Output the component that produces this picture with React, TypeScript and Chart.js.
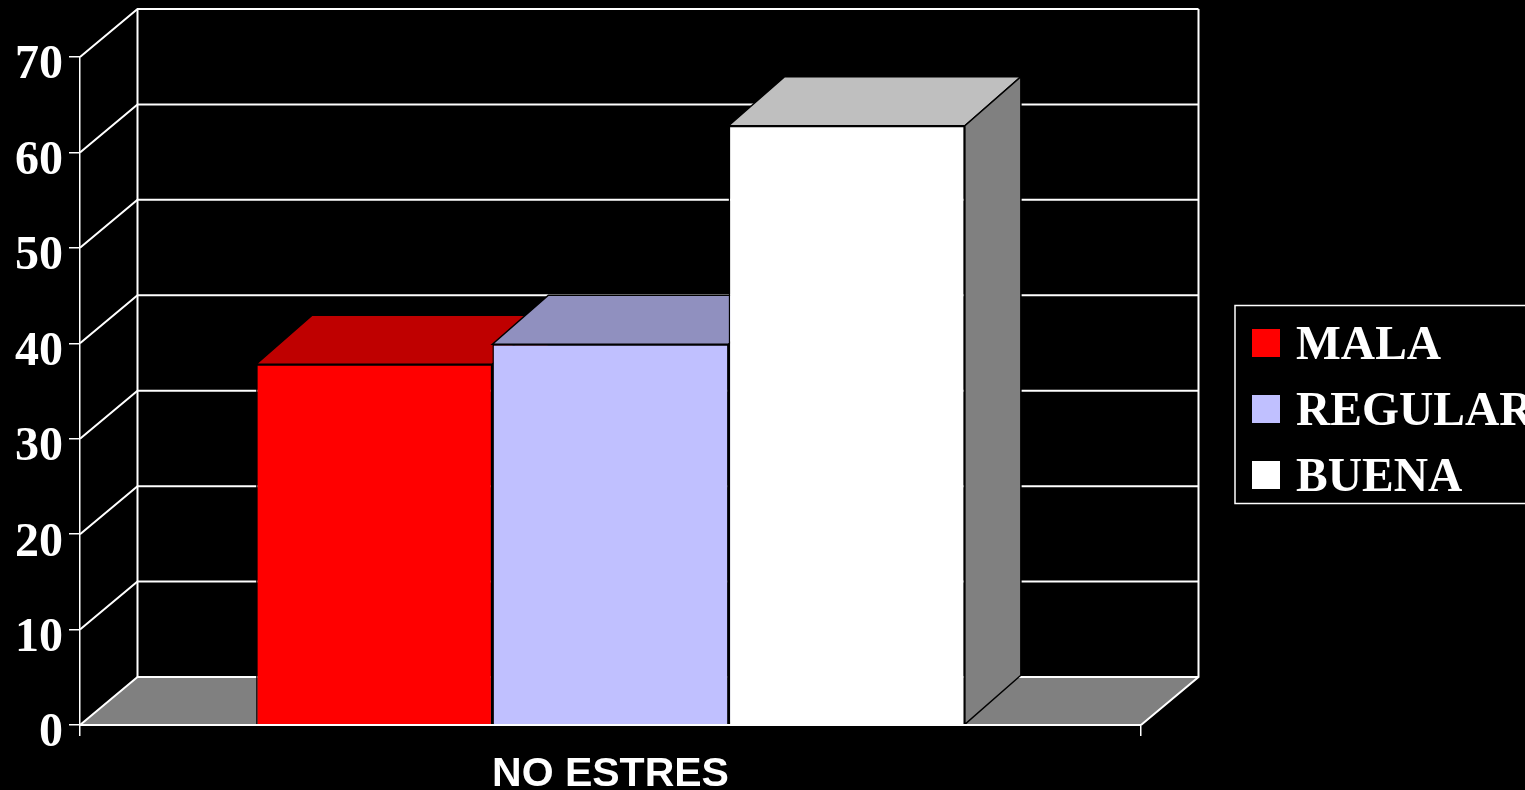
import React, { useEffect, useRef } from "react";
import { Chart, registerables } from "chart.js";

Chart.register(...registerables);

const categories = ["NO ESTRES"];
const seriesNames = ["MALA", "REGULAR", "BUENA"];
const mala = [37.8];
const regular = [39.9];
const buena = [62.8];
const frontColors = ["#FF0000", "#C0C0FF", "#FFFFFF"];
const topColors = ["#BF0000", "#9090BF", "#BFBFBF"];
const sideColors = ["#800000", "#606080", "#808080"];

const WALL_DX = 57.5;
const WALL_DY = 48;
const BAR_DX = 56;
const BAR_DY = 49;
const SERIF = '"Liberation Serif", serif';
const SANS = '"Liberation Sans", sans-serif';

function poly(ctx: CanvasRenderingContext2D, pts: number[][], fill: string, stroke: string, lw: number) {
  ctx.beginPath();
  pts.forEach((p, i) => (i === 0 ? ctx.moveTo(p[0], p[1]) : ctx.lineTo(p[0], p[1])));
  ctx.closePath();
  ctx.fillStyle = fill;
  ctx.fill();
  ctx.strokeStyle = stroke;
  ctx.lineWidth = lw;
  ctx.stroke();
}

const backgroundPlugin = {
  id: "blackBackground",
  beforeDraw(chart: any) {
    const { ctx, width, height } = chart;
    ctx.save();
    ctx.fillStyle = "#000000";
    ctx.fillRect(0, 0, width, height);
    ctx.restore();
  },
};

const wallsPlugin = {
  id: "walls3d",
  beforeDatasetsDraw(chart: any) {
    const { ctx, chartArea, scales } = chart;
    const { left, right, top, bottom } = chartArea;
    const y = scales.y;
    ctx.save();
    ctx.fillStyle = "#808080";
    ctx.beginPath();
    ctx.moveTo(left, bottom);
    ctx.lineTo(left + WALL_DX, bottom - WALL_DY);
    ctx.lineTo(right + WALL_DX, bottom - WALL_DY);
    ctx.lineTo(right, bottom);
    ctx.closePath();
    ctx.fill();
    ctx.strokeStyle = "#FFFFFF";
    ctx.lineWidth = 2;
    y.ticks.forEach((t: any) => {
      const py = y.getPixelForValue(t.value);
      ctx.beginPath();
      ctx.moveTo(left, py);
      ctx.lineTo(left + WALL_DX, py - WALL_DY);
      ctx.lineTo(right + WALL_DX, py - WALL_DY);
      ctx.stroke();
    });
    ctx.beginPath();
    ctx.moveTo(left + WALL_DX, top - WALL_DY);
    ctx.lineTo(left + WALL_DX, bottom - WALL_DY);
    ctx.moveTo(right + WALL_DX, top - WALL_DY);
    ctx.lineTo(right + WALL_DX, bottom - WALL_DY);
    ctx.lineTo(right, bottom);
    ctx.stroke();
    chart.data.datasets.forEach((_: any, i: number) => {
      chart.getDatasetMeta(i).data.forEach((bar: any) => {
        const l = bar.x - bar.width / 2;
        const r = bar.x + bar.width / 2;
        poly(ctx, [[l, bar.y], [l + BAR_DX, bar.y - BAR_DY], [r + BAR_DX, bar.y - BAR_DY], [r, bar.y]], topColors[i], "#000000", 1.5);
        poly(ctx, [[r, bar.y], [r + BAR_DX, bar.y - BAR_DY], [r + BAR_DX, bar.base - BAR_DY], [r, bar.base]], sideColors[i], "#000000", 1.5);
      });
    });
    ctx.restore();
  },
};

const legendPlugin = {
  id: "boxLegend",
  afterDraw(chart: any) {
    const { ctx } = chart;
    ctx.save();
    ctx.strokeStyle = "#FFFFFF";
    ctx.lineWidth = 1.5;
    ctx.strokeRect(1235, 305.5, 310, 198);
    ctx.font = `bold 47.5px ${SERIF}`;
    ctx.textAlign = "left";
    ctx.textBaseline = "alphabetic";
    chart.data.datasets.forEach((ds: any, i: number) => {
      const cy = 343 + i * 66;
      ctx.fillStyle = ds.backgroundColor;
      ctx.fillRect(1252, cy - 14, 28, 28);
      ctx.fillStyle = "#FFFFFF";
      ctx.fillText(ds.label, 1296, cy + 15.5);
    });
    ctx.restore();
  },
};

export default function App() {
  const ref = useRef<HTMLCanvasElement>(null);
  useEffect(() => {
    document.body.style.margin = "0";
    document.body.style.background = "#000";
    document.body.style.overflow = "hidden";
    const chart = new Chart(ref.current!, {
      type: "bar",
      data: {
        labels: categories,
        datasets: [mala, regular, buena].map((values, i) => ({
          label: seriesNames[i],
          data: values,
          backgroundColor: frontColors[i],
          borderColor: "#000000",
          borderWidth: 1.5,
          barPercentage: 1,
          categoryPercentage: 0.668,
        })),
      },
      options: {
        responsive: false,
        animation: false,
        layout: { padding: { left: 0, top: 57, right: 384, bottom: 0 } },
        plugins: { legend: { display: false }, tooltip: { enabled: false } },
        scales: {
          x: {
            afterFit(scale: any) {
              scale.height = 65;
            },
            grid: { display: true, drawOnChartArea: false, drawTicks: true, tickLength: 11, color: "#FFFFFF", lineWidth: 1.5, z: 1 },
            border: { display: true, color: "#FFFFFF", width: 2, z: 1 },
            ticks: {
              color: "#FFFFFF",
              font: { family: SANS, size: 41, weight: "bold" },
              padding: 14,
              maxRotation: 0,
            },
          },
          y: {
            min: 0,
            max: 70,
            afterFit(scale: any) {
              scale.width = 80;
            },
            grid: { display: true, drawOnChartArea: false, drawTicks: true, tickLength: 11, color: "#FFFFFF", lineWidth: 1.5, z: 1 },
            border: { display: true, color: "#FFFFFF", width: 1.5, z: 1 },
            ticks: {
              stepSize: 10,
              autoSkip: false,
              color: "#FFFFFF",
              font: { family: SERIF, size: 48, weight: "bold" },
              padding: 6,
              labelOffset: 9,
            },
          },
        },
      } as any,
      plugins: [backgroundPlugin, wallsPlugin, legendPlugin],
    });
    return () => chart.destroy();
  }, []);
  return <canvas ref={ref} width={1525} height={790} style={{ position: "fixed", left: 0, top: 0, display: "block" }} />;
}
